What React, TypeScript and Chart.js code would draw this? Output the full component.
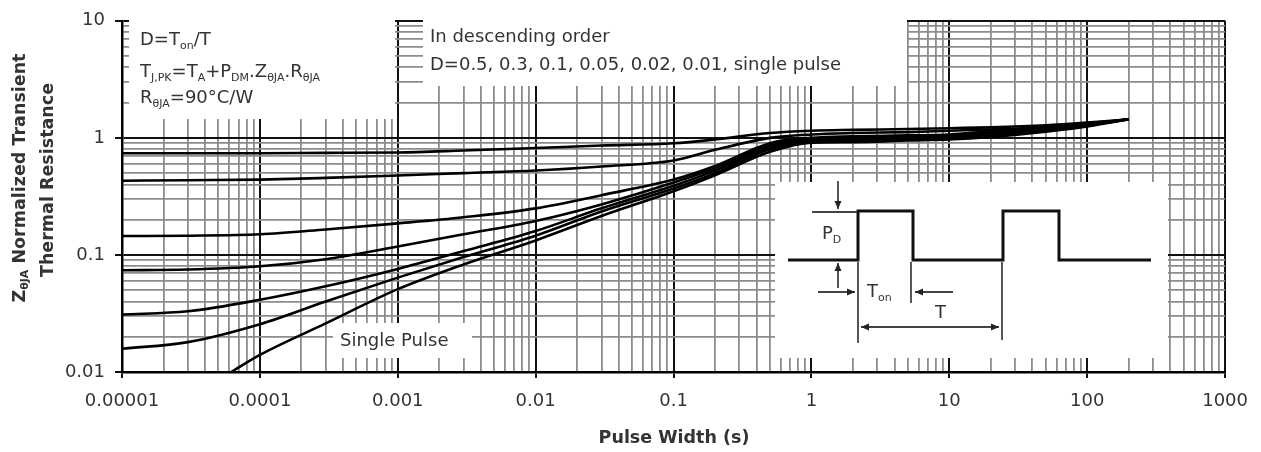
import React, { useEffect, useRef } from 'react';
import { Chart, registerables } from 'chart.js';

Chart.register(...registerables);

// ---------- data ----------
const pulseWidth = [1e-5, 3e-5, 1e-4, 3e-4, 1e-3, 3e-3, 1e-2, 3e-2, 0.1, 0.2, 0.5, 1, 2, 5, 10, 20, 50, 100, 200];
const zD05 = [0.74, 0.74, 0.74, 0.745, 0.75, 0.78, 0.82, 0.86, 0.9, 0.97, 1.1, 1.15, 1.17, 1.19, 1.21, 1.23, 1.28, 1.35, 1.44];
const zD03 = [0.43, 0.435, 0.44, 0.455, 0.477, 0.5, 0.526, 0.57, 0.64, 0.79, 1.0, 1.07, 1.1, 1.12, 1.15, 1.18, 1.24, 1.33, 1.44];
const zD01 = [0.145, 0.146, 0.15, 0.165, 0.186, 0.21, 0.25, 0.324, 0.44, 0.575, 0.9, 1.0, 1.03, 1.05, 1.07, 1.14, 1.21, 1.31, 1.44];
const zD005 = [0.074, 0.075, 0.08, 0.092, 0.118, 0.15, 0.195, 0.27, 0.415, 0.55, 0.86, 0.97, 0.99, 1.02, 1.04, 1.11, 1.19, 1.3, 1.44];
const zD002 = [0.031, 0.033, 0.0414, 0.054, 0.076, 0.108, 0.16, 0.25, 0.39, 0.525, 0.83, 0.94, 0.96, 0.99, 1.01, 1.08, 1.17, 1.28, 1.44];
const zD001 = [0.0158, 0.018, 0.0256, 0.04, 0.064, 0.096, 0.146, 0.235, 0.37, 0.5, 0.8, 0.92, 0.94, 0.97, 0.99, 1.05, 1.15, 1.27, 1.44];
const singlePulseWidth = [6.2e-5, 1e-4, 3e-4, 1e-3, 3e-3, 1e-2, 3e-2, 0.1, 0.2, 0.5, 1, 2, 5, 10, 20, 50, 100, 200];
const zSingle = [0.01, 0.014, 0.026, 0.051, 0.083, 0.133, 0.215, 0.35, 0.48, 0.76, 0.91, 0.92, 0.95, 0.97, 1.02, 1.13, 1.25, 1.44];

const xTickLabels = ['0.00001', '0.0001', '0.001', '0.01', '0.1', '1', '10', '100', '1000'];
const yTickLabels = ['0.01', '0.1', '1', '10'];

const FONT = '"DejaVu Sans", "Liberation Sans", sans-serif';
const TEXT = '#333';

type Run = [string, boolean];

function logTicks(minExp: number, maxExp: number) {
  const out: { value: number }[] = [];
  for (let e = minExp; e < maxExp; e++) {
    for (let m = 1; m <= 9; m++) out.push({ value: Number((m * Math.pow(10, e)).toPrecision(3)) });
  }
  out.push({ value: Number(Math.pow(10, maxExp).toPrecision(3)) });
  return out;
}

function isMajor(v: number) {
  const l = Math.log10(v);
  return Math.abs(l - Math.round(l)) < 1e-6;
}

function drawRuns(ctx: CanvasRenderingContext2D, runs: Run[], x: number, y: number, size: number, bold: boolean, align: 'left' | 'center' = 'left') {
  const w = bold ? 'bold ' : '';
  const main = `${w}${size}px ${FONT}`;
  const sub = `${w}${Math.round(size * 0.62)}px ${FONT}`;
  let total = 0;
  for (const [t, s] of runs) {
    ctx.font = s ? sub : main;
    total += ctx.measureText(t).width;
  }
  let cx = align === 'center' ? x - total / 2 : x;
  ctx.textBaseline = 'middle';
  ctx.textAlign = 'left';
  for (const [t, s] of runs) {
    ctx.font = s ? sub : main;
    ctx.fillText(t, cx, s ? y + size * 0.32 : y);
    cx += ctx.measureText(t).width;
  }
}

function arrow(ctx: CanvasRenderingContext2D, x1: number, y1: number, x2: number, y2: number, head = true) {
  ctx.beginPath();
  ctx.moveTo(x1, y1);
  ctx.lineTo(x2, y2);
  ctx.stroke();
  if (!head) return;
  const a = Math.atan2(y2 - y1, x2 - x1);
  const L = 8, H = 3.5;
  ctx.beginPath();
  ctx.moveTo(x2, y2);
  ctx.lineTo(x2 - L * Math.cos(a) + H * Math.sin(a), y2 - L * Math.sin(a) - H * Math.cos(a));
  ctx.lineTo(x2 - L * Math.cos(a) - H * Math.sin(a), y2 - L * Math.sin(a) + H * Math.cos(a));
  ctx.closePath();
  ctx.fill();
}

const overlayPlugin = {
  id: 'overlay',
  beforeDatasetsDraw(chart: any) {
    const ctx: CanvasRenderingContext2D = chart.ctx;
    ctx.save();
    // white annotation boxes over the grid
    ctx.fillStyle = '#fff';
    ctx.fillRect(129, 20, 266, 99);
    ctx.fillRect(423, 20, 484, 66);
    ctx.fillRect(333, 323, 139, 35);
    ctx.fillRect(775, 182, 393, 176);

    ctx.fillStyle = TEXT;
    const s = 18;
    drawRuns(ctx, [['D=T', false], ['on', true], ['/T', false]], 140, 40, s, false);
    drawRuns(ctx, [['T', false], ['J,PK', true], ['=T', false], ['A', true], ['+P', false], ['DM', true], ['.Z', false], ['θJA', true], ['.R', false], ['θJA', true]], 140, 72, s, false);
    drawRuns(ctx, [['R', false], ['θJA', true], ['=90°C/W', false]], 140, 98, s, false);
    drawRuns(ctx, [['In descending order', false]], 430, 37, s, false);
    drawRuns(ctx, [['D=0.5, 0.3, 0.1, 0.05, 0.02, 0.01, single pulse', false]], 430, 65, s, false);
    drawRuns(ctx, [['Single Pulse', false]], 340, 341, s, false);

    // pulse diagram
    ctx.strokeStyle = '#111';
    ctx.lineWidth = 3;
    ctx.lineJoin = 'miter';
    ctx.beginPath();
    const pts = [[788, 260], [858, 260], [858, 211], [913, 211], [913, 260], [1003, 260], [1003, 211], [1059, 211], [1059, 260], [1151, 260]];
    pts.forEach(([x, y], i) => (i ? ctx.lineTo(x, y) : ctx.moveTo(x, y)));
    ctx.stroke();

    ctx.strokeStyle = '#444';
    ctx.fillStyle = '#222';
    ctx.lineWidth = 1.8;
    arrow(ctx, 812, 212, 857, 212, false);
    arrow(ctx, 838, 181, 838, 209);
    arrow(ctx, 838, 288, 838, 263);
    arrow(ctx, 858, 262, 858, 343, false);
    arrow(ctx, 911, 262, 911, 303, false);
    arrow(ctx, 1002, 262, 1002, 340, false);
    arrow(ctx, 818, 292, 855, 292);
    arrow(ctx, 953, 292, 915, 292);
    arrow(ctx, 930, 327, 861, 327);
    arrow(ctx, 930, 327, 999, 327);

    ctx.fillStyle = TEXT;
    drawRuns(ctx, [['P', false], ['D', true]], 822, 234, s, false);
    drawRuns(ctx, [['T', false], ['on', true]], 867, 292, s, false);
    drawRuns(ctx, [['T', false]], 935, 313, s, false);

    // axis titles
    drawRuns(ctx, [['Pulse Width (s)', false]], 674, 438, 17.5, true, 'center');
    ctx.save();
    ctx.translate(20, 178);
    ctx.rotate(-Math.PI / 2);
    drawRuns(ctx, [['Z', false], ['θJA', true], [' Normalized Transient', false]], 0, 0, 17.5, true, 'center');
    ctx.restore();
    ctx.save();
    ctx.translate(48, 180);
    ctx.rotate(-Math.PI / 2);
    drawRuns(ctx, [['Thermal Resistance', false]], 0, 0, 17.5, true, 'center');
    ctx.restore();
    ctx.restore();
  },
};

function series(xs: number[], ys: number[]) {
  return xs.map((x, i) => ({ x, y: ys[i] }));
}

export default function App() {
  const ref = useRef<HTMLCanvasElement | null>(null);

  useEffect(() => {
    if (!ref.current) return;
    const gridColor = (c: any) => (c.tick && isMajor(c.tick.value) ? '#111' : '#8c8c8c');
    const gridWidth = (c: any) => (c.tick && isMajor(c.tick.value) ? 2 : 1.8);
    const tickColor = (c: any) => (c.tick && isMajor(c.tick.value) ? '#111' : 'rgba(0,0,0,0)');
    const lineStyle = { borderColor: '#000', borderWidth: 2.6, pointRadius: 0, fill: false, cubicInterpolationMode: 'monotone' as const };

    const chart = new Chart(ref.current, {
      type: 'line',
      data: {
        datasets: [
          { label: 'D=0.5', data: series(pulseWidth, zD05), ...lineStyle },
          { label: 'D=0.3', data: series(pulseWidth, zD03), ...lineStyle },
          { label: 'D=0.1', data: series(pulseWidth, zD01), ...lineStyle },
          { label: 'D=0.05', data: series(pulseWidth, zD005), ...lineStyle },
          { label: 'D=0.02', data: series(pulseWidth, zD002), ...lineStyle },
          { label: 'D=0.01', data: series(pulseWidth, zD001), ...lineStyle },
          { label: 'Single pulse', data: series(singlePulseWidth, zSingle), ...lineStyle },
        ],
      },
      options: {
        animation: false,
        responsive: false,
        devicePixelRatio: 1,
        layout: { padding: { left: 0, right: 35, top: 14, bottom: 0 } },
        plugins: { legend: { display: false }, title: { display: false }, tooltip: { enabled: false } },
        scales: {
          x: {
            type: 'logarithmic',
            min: 1e-5,
            max: 1000,
            afterBuildTicks: (scale: any) => { scale.ticks = logTicks(-5, 3); },
            afterFit: (scale: any) => { scale.height = 80; },
            border: { display: true, color: '#000', width: 2.5 },
            grid: { color: gridColor, lineWidth: gridWidth, tickColor, tickLength: 6, tickWidth: 2 },
            ticks: {
              autoSkip: false,
              maxRotation: 0,
              padding: 13,
              color: TEXT,
              font: { family: FONT, size: 18 },
              callback: (v: any) => {
                const n = Number(v);
                return isMajor(n) ? xTickLabels[Math.round(Math.log10(n)) + 5] : '';
              },
            },
          },
          y: {
            type: 'logarithmic',
            min: 0.01,
            max: 10,
            afterBuildTicks: (scale: any) => { scale.ticks = logTicks(-2, 1); },
            afterFit: (scale: any) => { scale.width = 122; },
            border: { display: true, color: '#000', width: 2.5 },
            grid: { color: gridColor, lineWidth: gridWidth, tickColor, tickLength: 7, tickWidth: 2 },
            ticks: {
              autoSkip: false,
              padding: 10,
              color: TEXT,
              font: { family: FONT, size: 18 },
              callback: (v: any) => {
                const n = Number(v);
                return isMajor(n) ? yTickLabels[Math.round(Math.log10(n)) + 2] : '';
              },
            },
          },
        },
      },
      plugins: [overlayPlugin],
    } as any);
    return () => chart.destroy();
  }, []);

  return (
    <div style={{ position: 'fixed', left: 0, top: 0, width: 1261, height: 452, background: '#fff' }}>
      <canvas ref={ref} width={1261} height={452} style={{ display: 'block', width: 1261, height: 452 }} />
    </div>
  );
}
